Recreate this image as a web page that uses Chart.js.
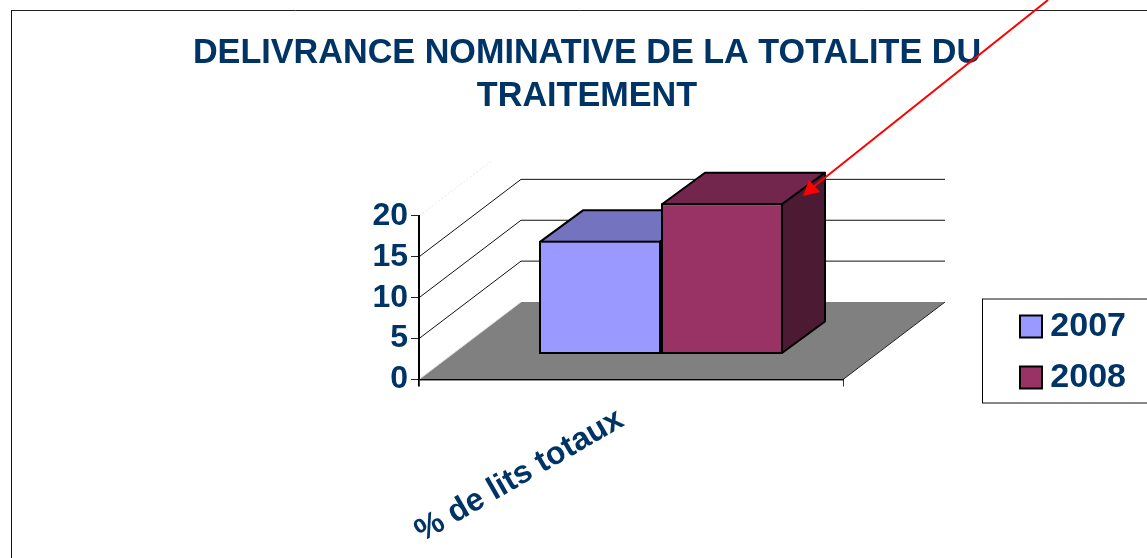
<!DOCTYPE html>
<html><head><meta charset="utf-8">
<style>html,body{margin:0;padding:0;background:#fff}canvas{display:block}</style>
<script src="https://cdn.jsdelivr.net/npm/chart.js@4"></script>
</head><body><canvas id="c" width="1147" height="558"></canvas>
<script>
const categories = ['% de lits totaux'];
const values2007 = [13.9];
const values2008 = [18.5];
const yTicks = [0, 5, 10, 15, 20];
const titleLines = ['DELIVRANCE NOMINATIVE DE LA TOTALITE DU', 'TRAITEMENT'];

const NAVY = '#003366';
const WALL = {dx: 102, dy: -77.5};
const BAR_SHIFT = {dx: 30, dy: -25};
const BAR_DEPTH = {dx: 43, dy: -31.5};
const shades = [{top: '#7373BF', side: '#7373BF'}, {top: '#73264D', side: '#4D1A33'}];

function poly(ctx, pts, fill, stroke, lw) {
  ctx.beginPath();
  pts.forEach((p, i) => i ? ctx.lineTo(p[0], p[1]) : ctx.moveTo(p[0], p[1]));
  ctx.closePath();
  if (fill) { ctx.fillStyle = fill; ctx.fill(); }
  if (stroke) { ctx.strokeStyle = stroke; ctx.lineWidth = lw; ctx.lineJoin = 'round'; ctx.stroke(); }
}
function line(ctx, x0, y0, x1, y1, color, lw) {
  ctx.beginPath(); ctx.moveTo(x0, y0); ctx.lineTo(x1, y1);
  ctx.strokeStyle = color; ctx.lineWidth = lw; ctx.stroke();
}

const scene3d = {
  id: 'scene3d',
  beforeLayout(chart) {
    const l = chart.legend;
    if (!l._fitPatched) {
      const fit = l.fit;
      l.fit = function () { fit.call(this); this.width = 304; };
      l._fitPatched = true;
    }
  },
  afterLayout(chart) {
    const l = chart.legend;
    l.left = 1003; l.right = 1126; l.top = 292.5; l.bottom = 558;
  },
  beforeDraw(chart) {
    const {ctx, width, height} = chart;
    ctx.save();
    ctx.fillStyle = '#fff'; ctx.fillRect(0, 0, width, height);
    line(ctx, 11.5, 10.5, width, 10.5, '#222', 1);
    line(ctx, 11.5, 10, 11.5, height, '#111', 1);
    ctx.restore();
  },
  beforeDatasetsDraw(chart) {
    const {ctx, scales: {x, y}} = chart;
    ctx.save();
    // floor
    const y0 = y.getPixelForValue(0);
    poly(ctx, [[x.left, y0], [x.left + WALL.dx, y0 + WALL.dy], [x.right + WALL.dx, y0 + WALL.dy], [x.right, y0]], '#808080');
    line(ctx, x.right, y0, x.right + WALL.dx, y0 + WALL.dy, '#222', 1);
    line(ctx, x.left, y0, x.left + WALL.dx, y0 + WALL.dy, '#ddd', 1);
    // walls
    yTicks.forEach(v => {
      if (v === 0) return;
      const py = y.getPixelForValue(v);
      if (v === 20) {
        ctx.setLineDash([2, 2]);
        line(ctx, x.left, py, x.left + WALL.dx * 0.7, py + WALL.dy * 0.7, '#e8e8e8', 1);
        ctx.setLineDash([]);
        return;
      }
      line(ctx, x.left, py, x.left + WALL.dx, py + WALL.dy, '#111', 1);
      line(ctx, x.left + WALL.dx, py + WALL.dy, x.right + WALL.dx, py + WALL.dy, '#111', 1);
    });
    // front axes
    line(ctx, x.left - 0.5, y.getPixelForValue(20), x.left - 0.5, y0 + 7, '#000', 1);
    line(ctx, x.left - 0.5, y0 + 0.5, x.right + 0.5, y0 + 0.5, '#222', 1);
    // depth faces of the bars
    ctx.translate(BAR_SHIFT.dx, BAR_SHIFT.dy);
    chart.data.datasets.forEach((ds, i) => {
      const b = chart.getDatasetMeta(i).data[0];
      const l = b.x - b.width / 2 + 1, r = b.x + b.width / 2 - 1, t = b.y + 1, base = b.base - 1;
      const d = BAR_DEPTH;
      poly(ctx, [[l, t], [l + d.dx, t + d.dy], [r + d.dx, t + d.dy], [r, t]], shades[i].top, '#000', 2);
      poly(ctx, [[r, t], [r + d.dx, t + d.dy], [r + d.dx, base + d.dy], [r, base]], shades[i].side, '#000', 2);
    });
    ctx.restore();
  },
  beforeDatasetDraw(chart) {
    chart.ctx.save();
    chart.ctx.translate(BAR_SHIFT.dx, BAR_SHIFT.dy);
  },
  afterDatasetDraw(chart) {
    chart.ctx.restore();
  },
  afterDraw(chart) {
    const {ctx} = chart;
    ctx.save();
    // legend frame
    line(ctx, 982, 299, 1147, 299, '#111', 1);
    line(ctx, 982, 403, 1147, 403, '#111', 1);
    line(ctx, 982.5, 299, 982.5, 403, '#000', 1);
    // annotation arrow
    line(ctx, 1048, 0, 812, 188, '#f00', 2);
    poly(ctx, [[803, 196], [809, 180], [820, 192]], '#f00');
    ctx.restore();
  }
};

new Chart(document.getElementById('c'), {
  type: 'bar',
  data: {
    labels: categories,
    datasets: [
      {label: '2007', data: values2007, backgroundColor: '#9999FF', borderColor: '#000', borderWidth: 2, borderSkipped: false, clip: false, categoryPercentage: 0.5755, barPercentage: 1},
      {label: '2008', data: values2008, backgroundColor: '#993366', borderColor: '#000', borderWidth: 2, borderSkipped: false, clip: false, categoryPercentage: 0.5755, barPercentage: 1}
    ]
  },
  options: {
    responsive: false,
    animation: false,
    layout: {padding: {left: 27, right: 0, top: 0, bottom: 0}},
    plugins: {
      tooltip: {enabled: false},
      title: {
        display: true,
        text: titleLines,
        color: NAVY,
        font: {family: '"Liberation Sans", Arial, sans-serif', size: 34.2, weight: 'bold', lineHeight: 1.257},
        padding: {top: 32, bottom: 98}
      },
      legend: {
        display: true,
        position: 'right',
        align: 'start',
        labels: {
          boxWidth: 22, boxHeight: 22, padding: 17,
          color: NAVY, textAlign: 'right',
          font: {family: '"Liberation Sans", Arial, sans-serif', size: 34, weight: 'bold'}
        }
      }
    },
    scales: {
      x: {
        afterFit(s) { s.height = 178.5; },
        grid: {drawOnChartArea: false, drawTicks: true, tickLength: 7, color: '#333', offset: true},
        border: {display: true, color: '#000', width: 1, z: 1},
        ticks: {
          autoSkip: false,
          color: NAVY, minRotation: 30, maxRotation: 30, padding: 14, labelOffset: -10,
          font: {family: '"Liberation Sans", Arial, sans-serif', size: 32, weight: 'bold'}
        }
      },
      y: {
        min: 0, max: 20,
        afterFit(s) { s.width = 392; },
        grid: {drawOnChartArea: false, drawTicks: true, tickLength: 8, color: '#222'},
        border: {display: true, color: '#000', width: 1, z: 1},
        ticks: {
          autoSkip: false,
          stepSize: 5, color: NAVY, padding: 3,
          font: {family: '"Liberation Sans", Arial, sans-serif', size: 32, weight: 'bold'}
        }
      }
    }
  },
  plugins: [scene3d]
});
</script></body></html>
